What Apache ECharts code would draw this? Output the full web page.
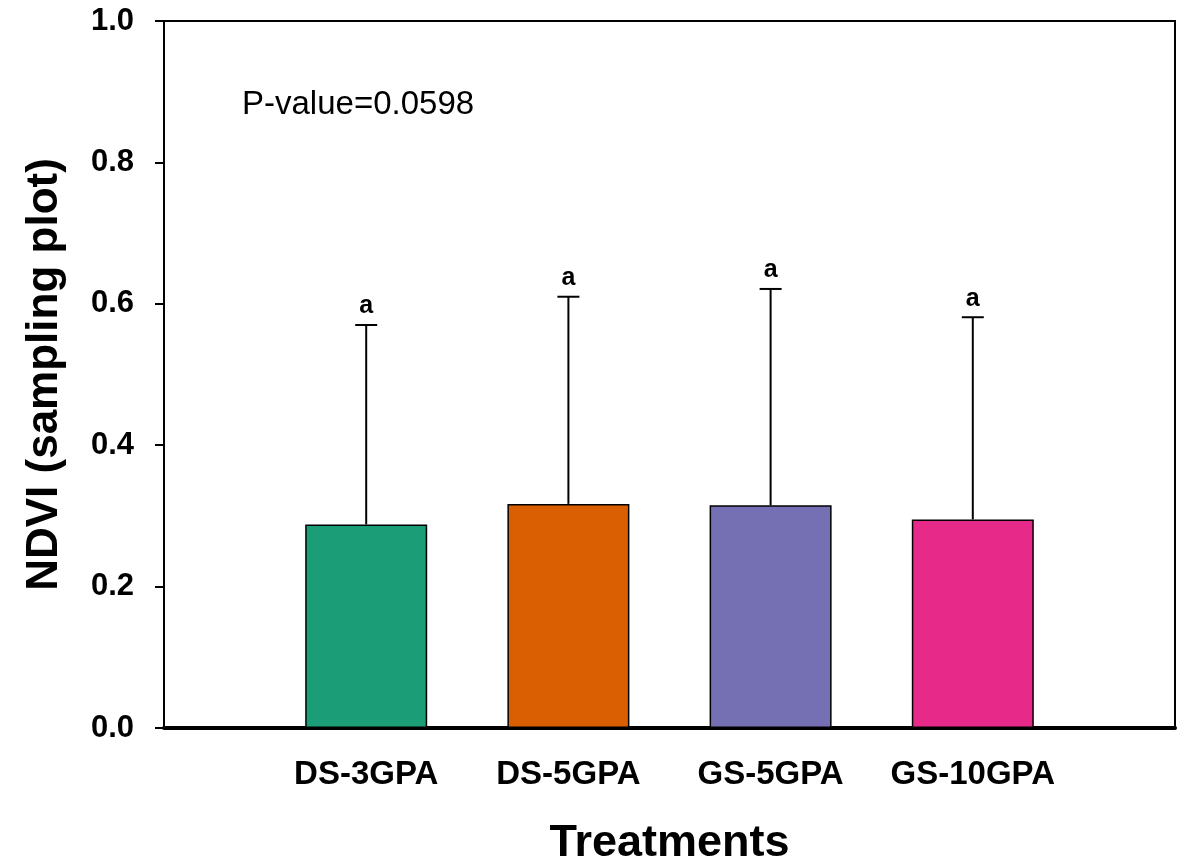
<!DOCTYPE html>
<html>
<head>
<meta charset="utf-8">
<script src="https://cdn.jsdelivr.net/npm/echarts@6/dist/echarts.min.js"></script>
<style>html,body{margin:0;padding:0;background:#fff}#c{width:1185px;height:864px}</style>
</head>
<body>
<div id="c"></div>
<script>
const categories = ['', 'DS-3GPA', 'DS-5GPA', 'GS-5GPA', 'GS-10GPA', ''];
const treatments = ['DS-3GPA', 'DS-5GPA', 'GS-5GPA', 'GS-10GPA'];
const means = [0.288, 0.317, 0.315, 0.295];
const errorTops = [0.570, 0.610, 0.621, 0.581];
const letters = ['a', 'a', 'a', 'a'];
const colors = ['#1b9e77', '#d95f02', '#7570b3', '#e7298a'];
const yTicks = [0, 0.2, 0.4, 0.6, 0.8, 1.0];
const pValueText = 'P-value=0.0598';

const FONT = 'Liberation Sans, Arial, sans-serif';
const chart = echarts.init(document.getElementById('c'));

const barData = treatments.map((t, i) => ({
  value: [t, means[i]],
  itemStyle: { color: colors[i] }
}));
const errData = treatments.map((t, i) => [t, means[i], errorTops[i]]);

chart.setOption({
  animation: false,
  backgroundColor: '#fff',
  grid: { left: 164, right: 10, top: 21, bottom: 136, containLabel: false, outerBoundsMode: 'none',
    show: true, borderColor: '#000', borderWidth: 2, backgroundColor: 'transparent' },
  xAxis: {
    type: 'category',
    data: categories,
    boundaryGap: false,
    name: 'Treatments',
    nameLocation: 'middle',
    nameGap: 93,
    nameTextStyle: { fontFamily: FONT, fontWeight: 'bold', fontSize: 45, color: '#000' },
    axisLine: { lineStyle: { color: '#000', width: 4 } },
    axisTick: { show: false },
    axisLabel: { fontFamily: FONT, fontWeight: 'bold', fontSize: 33, color: '#000', margin: 30, interval: 0 },
    splitLine: { show: false }
  },
  yAxis: {
    type: 'value',
    min: 0, max: 1.0, interval: 0.2,
    name: 'NDVI (sampling plot)',
    nameLocation: 'middle',
    nameGap: 97,
    nameTextStyle: { fontFamily: FONT, fontWeight: 'bold', fontSize: 44, color: '#000' },
    axisLine: { show: true, lineStyle: { color: '#000', width: 2 } },
    axisTick: { show: true, inside: false, length: 9, lineStyle: { color: '#000', width: 2 } },
    axisLabel: { fontFamily: FONT, fontWeight: 'bold', fontSize: 31, color: '#000', margin: 30,
      formatter: v => { const t = yTicks.find(x => Math.abs(x - v) < 1e-9); return t === undefined ? '' : t.toFixed(1); } },
    splitLine: { show: false }
  },
  graphic: [{
    type: 'text', left: 242, top: 88,
    style: { text: pValueText, fontFamily: FONT, fontSize: 33, fill: '#000' }
  }],
  series: [{
    type: 'bar',
    data: barData,
    barWidth: 122,
    itemStyle: { borderColor: '#000', borderWidth: 1.5 },
    z: 2
  }, {
    type: 'custom',
    data: errData,
    z: 3,
    renderItem: function (params, api) {
      const x = api.value(0);
      const base = api.coord([x, api.value(1)]);
      const top = api.coord([x, api.value(2)]);
      const cap = 11;
      return {
        type: 'group',
        children: [
          { type: 'line', shape: { x1: base[0], y1: base[1], x2: top[0], y2: top[1] }, style: { stroke: '#000', lineWidth: 2 } },
          { type: 'line', shape: { x1: top[0] - cap, y1: top[1], x2: top[0] + cap, y2: top[1] }, style: { stroke: '#000', lineWidth: 2 } },
          { type: 'text', x: top[0], y: top[1] - 6, style: { text: letters[params.dataIndex], fontFamily: FONT, fontWeight: 'bold', fontSize: 25, fill: '#000', align: 'center', verticalAlign: 'bottom' } }
        ]
      };
    }
  }]
});
</script>
</body>
</html>
